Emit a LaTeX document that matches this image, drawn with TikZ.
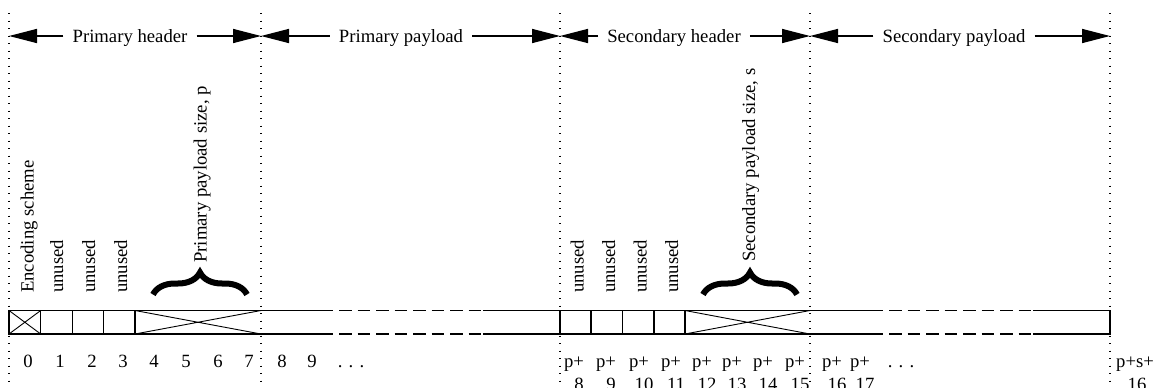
\documentclass[tikz,border=0pt]{standalone}
\usepackage{fontspec}
\setmainfont{Liberation Serif}
\usetikzlibrary{arrows.meta,decorations.pathreplacing,calc}
\newcommand\dfont{\fontsize{18.7}{23.5}\selectfont}

\begin{document}
\begin{tikzpicture}[x=1pt,y=-1pt,
  guide/.style={line width=1.4pt, dash pattern=on 1.4pt off 6.1pt},
  cell/.style={line width=1.3pt},
  crossline/.style={line width=0.9pt},
  gapline/.style={line width=1.3pt, dash pattern=on 12.5pt off 6pt, dash phase=12.5pt},
  span/.style={line width=1.5pt, -{Triangle[length=28pt,width=14pt]}},
  spanlabel/.style={font=\dfont, inner xsep=9pt, inner ysep=0pt, anchor=base},
  vlabel/.style={font=\dfont, rotate=90, anchor=base west, inner sep=0pt},
  idx/.style={font=\dfont, anchor=base, inner sep=0pt},
  sizebrace/.style={decorate, decoration={brace, amplitude=22pt, aspect=0.5}, line width=6pt},
]
\useasboundingbox (0,0) rectangle (1154,388);

% dotted section boundaries
\foreach \x/\n in {9/g0,261/g1,560/g2,810/g3,1110/g4} {
  \coordinate (\n) at (\x,36);
  \draw[guide] (\x,13) -- (\x,388);
}

% section spans
\node[spanlabel] (ph) at (130,42) {Primary header};
\draw[span] (ph.west |- g0) -- (g0);
\draw[span] (ph.east |- g1) -- (g1);
\node[spanlabel] (pp) at (401,42) {Primary payload};
\draw[span] (pp.west |- g1) -- (g1);
\draw[span] (pp.east |- g2) -- (g2);
\node[spanlabel] (sh) at (674,42) {Secondary header};
\draw[span] (sh.west |- g2) -- (g2);
\draw[span] (sh.east |- g3) -- (g3);
\node[spanlabel] (sp) at (954,42) {Secondary payload};
\draw[span] (sp.west |- g3) -- (g3);
\draw[span] (sp.east |- g4) -- (g4);

% primary header cells
\draw[cell] (261,310.5) -- (9,310.5) -- (9,334) -- (261,334);
\foreach \x in {40.7,72.3,103.7,135} \draw[cell] (\x,310.5) -- (\x,334);
\draw[crossline] (9,310.5) -- (40.7,334) (9,334) -- (40.7,310.5);
\draw[crossline] (135,310.5) -- (261,334) (135,334) -- (261,310.5);

% primary payload
\draw[cell] (261,310.5) -- (333,310.5) (261,334) -- (333,334);
\draw[gapline] (333,310.5) -- (483,310.5) (333,334) -- (483,334);
\draw[cell] (483,310.5) -- (560,310.5) -- (560,334) -- (483,334);

% secondary header cells
\draw[cell] (810,310.5) -- (560,310.5) -- (560,334) -- (810,334);
\foreach \x in {591,622.3,654,685} \draw[cell] (\x,310.5) -- (\x,334);
\draw[crossline] (685,310.5) -- (810,334) (685,334) -- (810,310.5);

% secondary payload
\draw[cell] (810,310.5) -- (883,310.5) (810,334) -- (883,334);
\draw[gapline] (883,310.5) -- (1033,310.5) (883,334) -- (1033,334);
\draw[cell] (1033,310.5) -- (1110,310.5) -- (1110,334) -- (1033,334);

% field names
\node[vlabel] (enc) at (33.5,293) {Encoding scheme};
\foreach \x [count=\i] in {63,95,127} \node[vlabel] (pu\i) at (\x,293) {unused};
\foreach \x [count=\i] in {583.5,615,646.5,678} \node[vlabel] (su\i) at (\x,293) {unused};
\node[vlabel] (psize) at (206.5,263) {Primary payload size, p};
\node[vlabel] (ssize) at (755,262) {Secondary payload size, s};
\draw[sizebrace] (153,294.5) -- (247,294.5);
\draw[sizebrace] (703,294.5) -- (797,294.5);

% byte offsets
\foreach \x/\lab [count=\i] in {28/0,60/1,92/2,123/3,154/4,186/5,218/6,249/7,282/8,312/9}
  \node[idx] (pi\i) at (\x,367) {\lab};
\node[idx] (pdots) at (351,367) {. . .};
\foreach \x/\lab [count=\i] in {579/8,611/9,644/10,676/11,707/12,737/13,768/14,800/15,837/16,865/17}
  \node[idx] (si\i) at (\x,367) {\begin{tabular}[t]{@{}c@{}}p+\kern10pt\\\lab\end{tabular}};
\node[idx] (sdots) at (901,367) {. . .};
\node[idx] (last) at (1137,367) {\begin{tabular}[t]{@{}c@{}}p+s+\kern4pt\\16\end{tabular}};
\end{tikzpicture}
\end{document}
